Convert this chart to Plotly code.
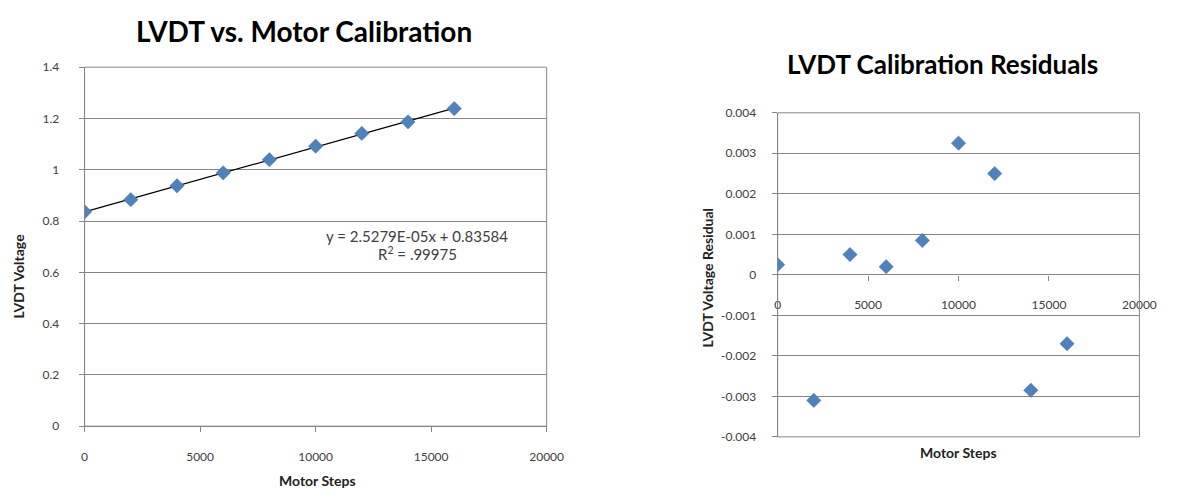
import numpy as np
import plotly.graph_objects as go

# ---------------- data ----------------
motor_steps = [0, 2000, 4000, 6000, 8000, 10000, 12000, 14000, 16000]
lvdt_voltage = [0.8361, 0.8833, 0.9375, 0.9879, 1.0391, 1.0919, 1.1417, 1.1869, 1.2386]
residuals = [0.00025, -0.0031, 0.0005, 0.0002, 0.00085, 0.00325, 0.0025, -0.00285, -0.0017]

left_y_ticks = [0, 0.2, 0.4, 0.6, 0.8, 1, 1.2, 1.4]
left_y_ticktext = ["0", "0.2", "0.4", "0.6", "0.8", "1", "1.2", "1.4"]
x_ticks = [0, 5000, 10000, 15000, 20000]
x_ticktext = ["0", "5000", "10000", "15000", "20000"]
right_y_ticks = [-0.004, -0.003, -0.002, -0.001, 0, 0.001, 0.002, 0.003, 0.004]
right_y_ticktext = ["-0.004", "-0.003", "-0.002", "-0.001", "0", "0.001", "0.002", "0.003", "0.004"]

eq_text = "y = 2.5279E-05x + 0.83584"
r2_text = "R<sup>2</sup> = .99975"

# trendline from least-squares fit of the data
slope, intercept = np.polyfit(motor_steps, lvdt_voltage, 1)
trend_x = [min(motor_steps), max(motor_steps)]
trend_y = [slope * v + intercept for v in trend_x]

W, H = 1180, 504
FONT = "Lato"
MARK = "#4F81BD"
GRID = "#868686"
TICKC = "#404040"

def px(x):
    return x / W

def py(y):
    return 1 - y / H

fig = go.Figure()

fig.add_trace(go.Scatter(x=trend_x, y=trend_y, mode="lines",
                         line=dict(color="black", width=1.2),
                         xaxis="x", yaxis="y", showlegend=False, hoverinfo="skip"))
fig.add_trace(go.Scatter(x=motor_steps, y=lvdt_voltage, mode="markers",
                         marker=dict(symbol="diamond", size=11, color=MARK,
                                     line=dict(color="#3F6FA8", width=0.5)),
                         xaxis="x", yaxis="y", showlegend=False))
fig.add_trace(go.Scatter(x=motor_steps, y=residuals, mode="markers",
                         marker=dict(symbol="diamond", size=11, color=MARK,
                                     line=dict(color="#3F6FA8", width=0.5)),
                         xaxis="x2", yaxis="y2", showlegend=False))

tickfont = dict(family=FONT, size=12, color=TICKC)

fig.update_layout(
    width=W, height=H, autosize=False,
    margin=dict(l=0, r=0, t=0, b=0),
    paper_bgcolor="white", plot_bgcolor="white",
    showlegend=False,
    xaxis=dict(domain=[px(83), px(553)], range=[0, 20000], anchor="y",
               tickvals=x_ticks, ticktext=x_ticktext, tickfont=tickfont,
               showgrid=False, zeroline=False, showline=True, linecolor=GRID, linewidth=1,
               ticks="outside", ticklen=5, tickcolor=GRID, ticklabelstandoff=14),
    yaxis=dict(domain=[py(431), py(61)], range=[0, 1.4], anchor="x",
               tickvals=left_y_ticks, ticktext=left_y_ticktext, tickfont=tickfont,
               showgrid=True, gridcolor=GRID, gridwidth=1, zeroline=False,
               showline=True, linecolor=GRID, linewidth=1,
               ticks="outside", ticklen=5, tickcolor=GRID, ticklabelstandoff=17),
    xaxis2=dict(domain=[px(788), px(1156)], range=[0, 20000], anchor="free",
                position=py(275),
                tickvals=x_ticks, ticktext=x_ticktext, tickfont=tickfont,
                showgrid=False, zeroline=False, showline=False,
                ticks="outside", ticklen=5, tickcolor=GRID, ticklabelstandoff=14),
    yaxis2=dict(domain=[py(442), py(108)], range=[-0.004, 0.004], anchor="x2",
                tickvals=right_y_ticks, ticktext=right_y_ticktext, tickfont=tickfont,
                showgrid=True, gridcolor=GRID, gridwidth=1, zeroline=False,
                showline=True, linecolor=GRID, linewidth=1,
                ticks="outside", ticklen=5, tickcolor=GRID, ticklabelstandoff=13),
)

# plot-area boxes
for xr, yr in (("x domain", "y domain"), ("x2 domain", "y2 domain")):
    fig.add_shape(type="rect", xref=xr, yref=yr, x0=0, x1=1, y0=0, y1=1,
                  line=dict(color=GRID, width=1), fillcolor="rgba(0,0,0,0)", layer="above")

ann = []
# titles
ann.append(dict(text="<b>LVDT vs. Motor Calibration</b>", x=px(306), y=py(24),
                font=dict(family=FONT, size=28, color="black")))
ann.append(dict(text="<b>LVDT Calibration Residuals</b>", x=px(956), y=py(58),
                font=dict(family=FONT, size=26, color="black")))
# axis titles
ann.append(dict(text="<b>Motor Steps</b>", x=px(320), y=py(487),
                font=dict(family=FONT, size=14, color="#222")))
ann.append(dict(text="<b>LVDT Voltage</b>", x=px(16), y=py(276), textangle=-90,
                font=dict(family=FONT, size=14, color="#222")))
ann.append(dict(text="<b>Motor Steps</b>", x=px(972), y=py(458),
                font=dict(family=FONT, size=14, color="#222")))
ann.append(dict(text="<b>LVDT Voltage Residual</b>", x=px(717), y=py(278), textangle=-90,
                font=dict(family=FONT, size=14, color="#222")))
# trendline label
ann.append(dict(text=eq_text, x=px(421), y=py(235),
                font=dict(family=FONT, size=15, color=TICKC)))
ann.append(dict(text=r2_text, x=px(422), y=py(253),
                font=dict(family=FONT, size=15, color=TICKC)))

for a in ann:
    a.update(xref="paper", yref="paper", showarrow=False, xanchor="center", yanchor="middle")
    fig.add_annotation(**a)

fig.write_html("out.html")
